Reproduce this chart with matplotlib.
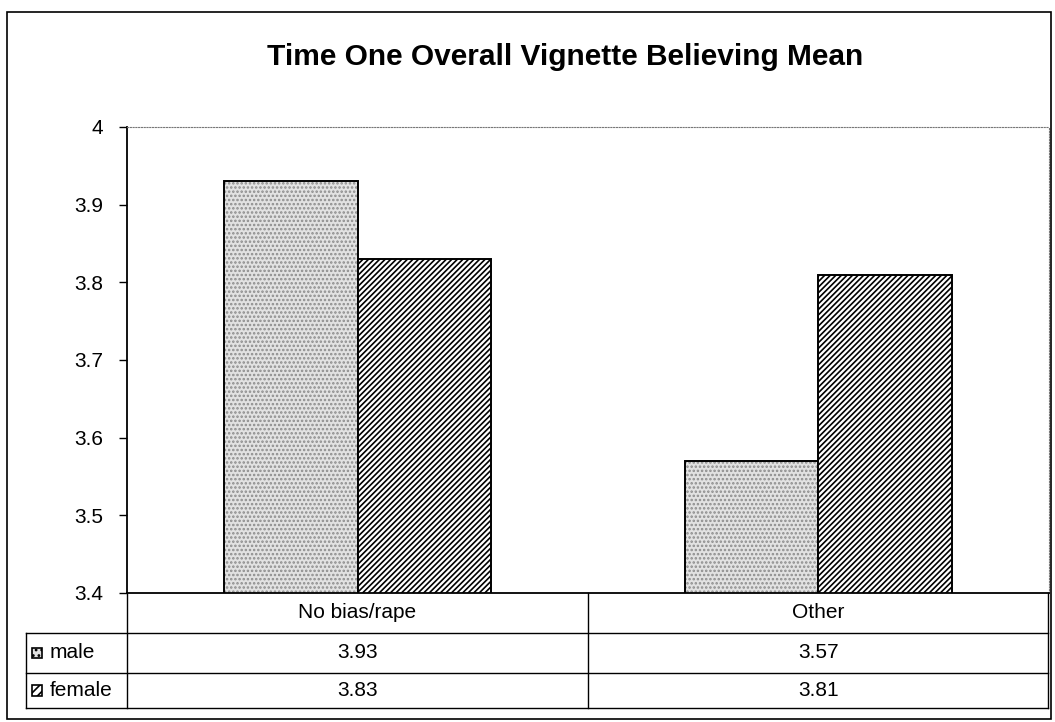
import matplotlib
matplotlib.use("Agg")
import matplotlib.pyplot as plt
import matplotlib.transforms as mtransforms
from matplotlib.patches import Rectangle
from matplotlib.lines import Line2D
import numpy as np

plt.rcParams['font.family'] = ['Liberation Sans', 'DejaVu Sans']
plt.rcParams['hatch.linewidth'] = 1.2

# Veriler
kategoriler = ["No bias/rape", "Other"]
seriler = ["male", "female"]
male = [3.93, 3.57]
female = [3.83, 3.81]
y_ticks = [3.4, 3.5, 3.6, 3.7, 3.8, 3.9, 4.0]
y_tick_labels = ["3.4", "3.5", "3.6", "3.7", "3.8", "3.9", "4"]
baslik = "Time One Overall Vignette Believing Mean"

fig = plt.figure(figsize=(10.55, 7.22), dpi=100)
ax = fig.add_axes([0.1204, 0.1787, 0.8739, 0.6454])

x = np.arange(len(kategoriler))
w = 0.289

# male: noktali acik gri desen, female: yogun capraz cizgi
ax.bar(x - w / 2, male, w, color="#e2e2e2", edgecolor="#8c8c8c", hatch="....", linewidth=0)
ax.bar(x - w / 2, male, w, fill=False, edgecolor="black", linewidth=1.4)
ax.bar(x + w / 2, female, w, color="white", edgecolor="black", hatch="//////", linewidth=1.4)

ax.set_xlim(-0.5, len(kategoriler) - 0.5)
ax.set_ylim(3.4, 4.0)
ax.set_yticks(y_ticks)
ax.set_yticklabels(y_tick_labels)
ax.set_xticks([])
ax.tick_params(axis="y", direction="out", length=6, width=1, pad=11, labelsize=15)

for s in ["left", "bottom"]:
    ax.spines[s].set_color("black")
    ax.spines[s].set_linewidth(1.3)
for s in ["top", "right"]:
    ax.spines[s].set_color("#777777")
    ax.spines[s].set_linewidth(0.8)
    ax.spines[s].set_linestyle((0, (1, 1.5)))

# Veri tablosu (grafigin altinda)
satir = [0.0, -0.0858, -0.1717, -0.2468]
sol = -0.1095
sag = 0.999
karisik = mtransforms.blended_transform_factory(ax.transData, ax.transAxes)

def cizgi(xs, ys, tr):
    ax.add_line(Line2D(xs, ys, transform=tr, color="black", lw=1.0, clip_on=False))

for yy in satir[1:]:
    cizgi([sol, sag], [yy, yy], ax.transAxes)
cizgi([sol, sol], [satir[1], satir[3]], ax.transAxes)
cizgi([0, 0], [0, satir[3]], ax.transAxes)
cizgi([sag, sag], [0, satir[3]], ax.transAxes)
for i in range(len(kategoriler) - 1):
    cizgi([i + 0.5, i + 0.5], [0, satir[3]], karisik)

for i, k in enumerate(kategoriler):
    ax.text(i, (satir[0] + satir[1]) / 2, k, transform=karisik, ha="center", va="center", fontsize=15, clip_on=False)
    ax.text(i, (satir[1] + satir[2]) / 2, f"{male[i]:.2f}", transform=karisik, ha="center", va="center", fontsize=15, clip_on=False)
    ax.text(i, (satir[2] + satir[3]) / 2, f"{female[i]:.2f}", transform=karisik, ha="center", va="center", fontsize=15, clip_on=False)

desenler = [dict(facecolor="#e2e2e2", hatch="..."), dict(facecolor="white", hatch="////")]
for j, ad in enumerate(seriler):
    ym = (satir[j + 1] + satir[j + 2]) / 2
    ax.add_patch(Rectangle((-0.103, ym - 0.0108), 0.0108, 0.0215, transform=ax.transAxes,
                           edgecolor="black", linewidth=1.2, clip_on=False, **desenler[j]))
    ax.text(-0.0835, ym, ad, transform=ax.transAxes, ha="left", va="center", fontsize=15, clip_on=False)

# Baslik ve dis cerceve
fig.text(0.5355, 0.91, baslik, ha="center", va="baseline", fontsize=21.5, fontweight="bold")
fig.add_artist(Rectangle((0.0066, 0.004), 0.9896, 0.979, transform=fig.transFigure,
                         fill=False, edgecolor="black", linewidth=1.2))

plt.savefig("out.png", dpi=100)
